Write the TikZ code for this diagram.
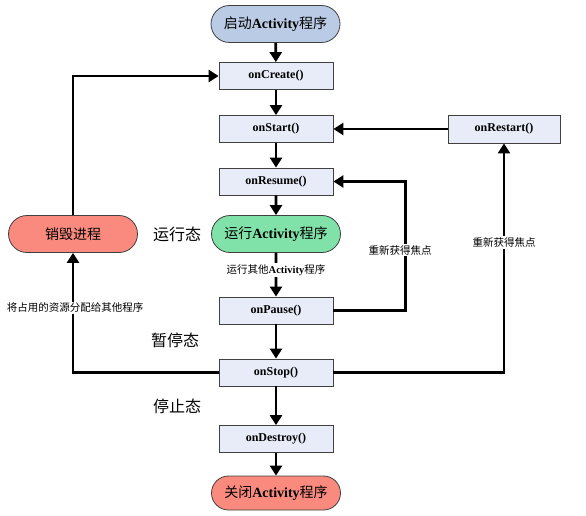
\documentclass[tikz,border=0pt]{standalone}
\usepackage{fontspec}
\setmainfont{Liberation Serif}
\newfontfamily\cjk{Noto Sans CJK SC}
\usetikzlibrary{arrows.meta,shapes.misc}
\definecolor{boxc}{HTML}{E8ECF8}
\definecolor{bluec}{HTML}{B9CBE5}
\definecolor{redc}{HTML}{FA8A7E}
\definecolor{greenc}{HTML}{80E2A8}
\definecolor{edgec}{HTML}{404040}
\begin{document}
\begin{tikzpicture}[x=1pt,y=-1pt,
 box/.style={draw=edgec, line width=0.8pt, fill=boxc, minimum width=114pt, minimum height=27pt, inner sep=0pt, font=\bfseries\fontsize{12}{14}\selectfont},
 pill/.style={draw=edgec, line width=0.8pt, rounded rectangle, minimum width=129pt, minimum height=37pt, inner sep=0pt, font=\fontsize{14}{16}\selectfont},
 arr/.style={line width=2.6pt, -{Triangle[length=10pt,width=12pt]}},
 lab/.style={fill=white, inner sep=1.5pt, font=\cjk\fontsize{10.5}{12}\selectfont},
 state/.style={inner sep=0pt, font=\cjk\fontsize{16}{18}\selectfont}]
\useasboundingbox (0,0) rectangle (586,516);
\node[pill, fill=bluec] (start) at (275.5,24) {{\cjk 启动}\textbf{Activity}{\cjk 程序}};
\node[box] (create) at (276,76) {onCreate()};
\node[box] (onstart) at (276,129) {onStart()};
\node[box, minimum width=112pt, minimum height=28pt] (restart) at (504,129) {onRestart()};
\node[box] (resume) at (276,181.5) {onResume()};
\node[pill, fill=greenc] (run) at (276,234) {{\cjk 运行}\textbf{Activity}{\cjk 程序}};
\node[box] (pause) at (276,310.5) {onPause()};
\node[box] (stop) at (276,372.5) {onStop()};
\node[box] (destroy) at (276,439) {onDestroy()};
\node[pill, fill=redc, minimum height=34pt] (close) at (276,493) {{\cjk 关闭}\textbf{Activity}{\cjk 程序}};
\node[pill, fill=redc] (kill) at (73,234) {\cjk 销毁进程};

\node[state] (s1) at (177,234) {运行态};
\node[state] (s2) at (175,340) {暂停态};
\node[state] (s3) at (177,406) {停止态};

\draw[arr] (start) -- (create);
\draw[arr] (create) -- (onstart);
\draw[arr] (onstart) -- (resume);
\draw[arr] (resume) -- (run);
\draw[arr] (run) -- node[lab, pos=0.4] (l1) {运行其他{\rmfamily\bfseries Activity}程序} (pause);
\draw[arr] (pause) -- (stop);
\draw[arr] (stop) -- (destroy);
\draw[arr] (destroy) -- (close);
\draw[arr] (restart) -- (onstart);
\draw[arr] (stop.east) -| node[lab, pos=0.784] (l2) {重新获得焦点} (restart.south);
\draw[arr] (pause.east) -- ++(72,0) coordinate (c1) |- (resume.east);
\node[lab] (l3) at (400,250) {重新获得焦点};
\draw[arr] (stop.west) -| (kill.south);
\node[lab] (l4) at (75,308) {将占用的资源分配给其他程序};
\draw[arr] (kill.north) |- (create.west);
\end{tikzpicture}
\end{document}
